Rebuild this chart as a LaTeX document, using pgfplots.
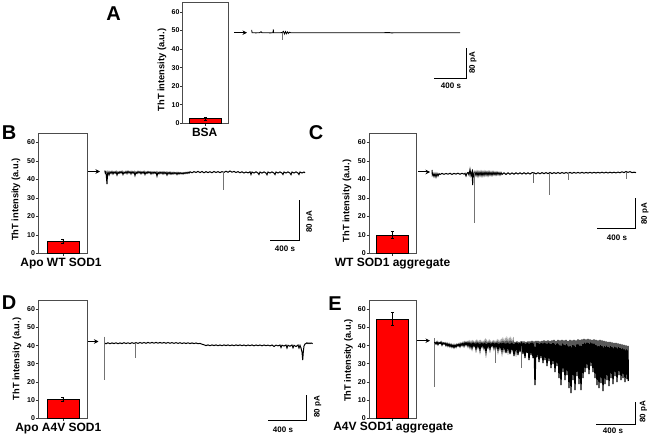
\documentclass[border=0pt]{standalone}
\usepackage{pgfplots}
\pgfplotsset{compat=1.18}
\usepackage{fontspec}
\setmainfont{Liberation Sans}
\usetikzlibrary{arrows.meta}
\pgfplotsset{
 barpanel/.style={
  scale only axis, anchor=south west, clip=false,
  xmin=0, xmax=1, ymin=0, ymax=65,
  ytick={0,10,...,60}, xtick={0.5}, xticklabels={},
  xtick pos=lower, ytick pos=left,
  axis line style={black!70, line width=0.75pt},
  tick style={black!80, line width=0.6pt},
  major tick length=2.5pt,
  ytick align=outside, xtick align=outside,
  yticklabel style={font=\bfseries\fontsize{7}{8}\selectfont, inner sep=0.6pt},
  /pgf/number format/assume math mode=true,
  ybar, bar width=32pt, bar shift=0pt,
 },
 barplot/.style={fill=red, draw=black, line width=0.5pt,
  error bars/.cd, y dir=both, y explicit,
  error bar style={black, line width=0.5pt},
  error mark options={rotate=90, mark size=1.6pt, black, line width=0.5pt}},
}
\begin{document}
\begin{tikzpicture}
\path[use as bounding box] (0,0) rectangle (653pt,438pt);
% ---- bar panels ----
\begin{axis}[barpanel, at={(182.7pt,314.7pt)}, width=45.6pt, height=120.6pt]
\addplot[barplot] coordinates {(0.5,2.5) +- (0,0.8)};
\end{axis}
\begin{axis}[barpanel, at={(38.3pt,184.7pt)}, width=49pt, height=120pt]
\addplot[barplot] coordinates {(0.5,6.6) +- (0,1.2)};
\end{axis}
\begin{axis}[barpanel, at={(369pt,184.7pt)}, width=47pt, height=120pt]
\addplot[barplot] coordinates {(0.5,9.9) +- (0,1.8)};
\end{axis}
\begin{axis}[barpanel, at={(38.3pt,19.7pt)}, width=49pt, height=118.1pt]
\addplot[barplot] coordinates {(0.5,10.6) +- (0,1.0)};
\end{axis}
\begin{axis}[barpanel, at={(369pt,19.7pt)}, width=47pt, height=118.1pt]
\addplot[barplot] coordinates {(0.5,54.7) +- (0,3.4)};
\end{axis}
% ---- traces, arrows, scale bars and labels (pixel frame) ----
\begin{axis}[at={(0pt,0pt)}, anchor=south west, scale only axis, width=653pt, height=438pt,
  xmin=0, xmax=653, ymin=0, ymax=438, y dir=reverse, hide axis, clip=false]
% trace A
\addplot[black, line width=0.8pt] coordinates {
(251.7,29.8)(252,32.7)(256,32.9)(260,32.6)(261,31.6)(262,32.8)(266,32.7)(270,32.9)(273,32.8)(273.3,29.5)(273.6,32.7)
(278,32.8)(282,32.6)(283.5,31.4)(284.5,34)(285.5,31.6)(286.5,33.8)(287.5,31.9)(288.5,33.4)(289.5,32.2)(291,32.8)
(300,32.7)(310,32.8)(320,32.7)(330,32.8)(340,32.7)(350,32.8)(360,32.7)(370,32.8)(380,32.7)(390,32.6)(391,32.9)
(400,32.7)(410,32.8)(420,32.7)(430,32.8)(440,32.7)(450,32.8)(460,32.8)};
\addplot[black!55, line width=0.5pt] coordinates {(282.7,32.7)(282.7,40.5)};
% trace B
\addplot[black, line width=1pt] coordinates {
(104.8,170.5)(105.3,173)(106,172)(106.5,178)(107,184)(107.5,174)(108,172)(109,175)(110,171.8)(111,173.5)
(112,171.5)(113,174)(114,171.8)(115,173.2)(116,171.5)(117,175)(118,172)(119,173.4)(120,171.6)(121,173)(122,171.4)(123,174.5)(124,172)(125,173.3)(126,171.5)(127,173.6)(128,171.2)(129,173)(130,171.6)(131,174)(132,171.5)(133,173.2)(134,171.7)(135,175.5)(136,172)(137,173.4)(138,171.4)(139,173)(140,171.6)(141,173.8)(142,171.8)(143,173.2)(144,171.5)(145,174.5)(146,172)(147,173.4)(148,171.6)(149,173)(150,171.8)(151,174)(152,172)(153,173.6)(154,171.9)(155,173.3)(156,172)(157,176)(158,172.2)(159,173.8)(160,172)(161,173.5)(162,172.1)(163,174)(164,172)(165,173.7)(166,172.2)(167,175)(168,172.3)(169,173.9)(170,172.2)(171,174.2)(172,172.5)(173,174)(174,172.4)(175,173.8)(176,172.6)(177,174.5)(178,172.5)(179,174)(180,172.6)(181,173.8)(182,172.8)(183,174)(184,172.6)(185,173.6)(186,172.4)(187,173.5)(188,172.2)(189,173.2)(190,171.8)(192,172.8)(194,171.6)(196,172.5)(198,171.4)(200,172.6)(202,171.5)(204,172.8)(206,171.6)(208,172.6)(210,171.7)(212,172.7)(214,171.5)(216,172.5)(218,171.6)(220,172.6)(222,171.6)(224,172.4)(226,171.2)(228,172.3)(230,171)(232,172.2)(234,171.4)(236,172.5)(238,171.6)(240,172.8)(242,171.8)(244,173)(246,172)(248,172.9)(250,171.8)(251,174.5)(252,172)(254,173)(256,171.8)(258,173)(259,174.5)(260,172)(262,173.1)(264,171.9)(266,173)(267,174.8)(268,172)(270,173)(272,171.9)(274,173.1)(275,174.6)(276,172)(278,173)(280,171.9)(282,173.1)(283,174.5)(284,172)(286,173)(288,171.9)(290,173.1)(291,174.7)(292,172)(294,173)(296,171.9)(298,173)(299,174.5)(300,172)(302,173)(304,172)(305,172.8)};
\addplot[black!55, line width=0.5pt] coordinates {(223,172.5)(223,190)};
% trace C
\addplot[black, line width=1pt] coordinates {
(432,170)(432.3,175)(433,173.5)(434,176.5)(435,173.5)(436,177)(437,173.5)(438,176)(439,173.6)(440,174.5)(442,173.4)(444,174.3)(446,173.5)(448,174.2)(450,173.3)(452,174.4)(454,173.4)(456,174.1)(458,173.2)(460,174.3)(462,173.3)(464,174.1)(465,173.3)(466,176)(467,173.2)(468,172.5)(469,175)(470,169.5)(471,175.5)(472,172)(472.7,185)(473,172.5)(474,176)(475,172)(476,175.5)(477,171.8)(478,176)(479,172)(480,175.5)(481,171.8)(482,175.8)(483,172)(484,175.5)(485,171.8)(486,175.2)(487,172)(488,175.5)(489,171.8)(490,175)(491,172.2)(492,175.3)(493,172)(494,174.8)(495,172.3)(496,175)(497,172.2)(498,174.6)(499,172.5)(500,175)(501,172.5)(502,174.5)(504,172.8)(506,174.5)(508,172.8)(510,174.3)(512,172.9)(514,174.2)(516,172.8)(518,174)(520,172.8)(522,174)(524,172.7)(526,174)(528,172.8)(530,174)(532,172.7)(534,172.8)(536,173.9)(538,172.7)(540,173.8)(542,172.6)(544,173.7)(546,172.6)(548,173.6)(550,172.5)(552,173.6)(554,172.6)(556,173.5)(558,172.5)(560,173.5)(562,172.5)(564,173.4)(566,172.5)(568,173.3)(570,172.4)(572,173.3)(574,172.4)(576,173.2)(578,172.4)(580,173.2)(582,172.3)(584,173.2)(586,172.4)(588,173.1)(590,172.3)(592,173.1)(594,172.3)(596,173)(598,172.3)(600,173)(602,172.2)(604,173)(606,172.2)(608,173)(610,172.2)(612,172.9)(614,172.2)(616,172.9)(618,172.1)(620,172.8)(622,171.8)(624,172.6)(626,171.5)(628,172.4)(630,171.6)(632,172.6)(634,172.2)(636,172.6)};
\addplot[black!55, line width=0.5pt] coordinates {(474,173)(474,223)};
\addplot[black!55, line width=0.5pt] coordinates {(549.7,173)(549.7,195)};
\addplot[black!60, line width=0.6pt] coordinates {(533,173)(533,183)};
\addplot[black!55, line width=0.5pt] coordinates {(568,173)(568,180)};
\addplot[black!55, line width=0.5pt] coordinates {(626,172)(626,179)};
% trace D
\addplot[black, line width=1pt] coordinates {
(104.5,343)(106,343.8)(108,342.8)(110,343.7)(112,342.9)(114,343.6)(116,342.8)(118,343.7)(120,342.9)(122,343.6)(124,342.7)(126,343.5)(128,342.8)(130,343.6)(132,342.7)(134,343.4)(136,342.6)(138,343.4)(140,342.5)(142,343.3)(144,342.5)(146,343.3)(148,342.4)(150,343.2)(152,342.4)(154,343.2)(156,342.4)(158,343.2)(160,342.5)(162,343.2)(164,342.5)(166,343.3)(168,342.5)(170,343.3)(172,342.6)(174,343.4)(176,342.6)(178,343.4)(180,342.7)(182,343.5)(184,342.8)(186,343.5)(188,342.8)(190,343.6)(192,342.9)(194,343.6)(196,343)(198,343.7)(200,343.4)(202,344.2)(204,344.8)(206,345.6)(208,344.9)(210,345.7)(212,344.9)(214,345.6)(216,344.9)(218,345.7)(220,345)(222,345.7)(224,344.9)(226,345.6)(228,344.9)(230,345.7)(232,345)(234,345.7)(236,344.9)(238,345.6)(240,344.9)(242,345.7)(244,345)(246,345.8)(248,345)(250,345.7)(252,344.9)(254,345.8)(256,345)(258,345.7)(260,345)(262,345.8)(264,345)(266,345.7)(268,345.1)(270,345.9)(272,345)(274,346.5)(276,345.1)(278,345.9)(280,345)(281,347.5)(282,345.2)(284,346)(286,345)(287,348)(288,345.2)(290,346.2)(292,345)(293,347.8)(294,345.3)(296,346.5)(298,345)(299,348)(300,345.4)(301,348)(302,352)(302.7,360)(303.3,352)(304,346)(305,344)(306,343.5)(307,342.8)(308,343.6)(309,343)(310,343.6)(311,343)(312.7,343.6)};
\addplot[black!55, line width=0.5pt] coordinates {(104,336.7)(104,380)};
\addplot[black!55, line width=0.5pt] coordinates {(135,343.2)(135,358.3)};
% trace E
\addplot[black!55, line width=0.5pt] coordinates {(434,338)(434,386.7)};
\addplot[black!55, line width=0.5pt] coordinates {(495.2,343)(495.2,363)};
\addplot[black!55, line width=0.5pt] coordinates {(521.7,342)(521.7,368)};
\addplot[black, line width=1.25pt] coordinates {
(434.4,343)(435,342.5)(436,344)(437,342)(438,344.5)(439,342.5)(440,343.5)(441,342)(442,345)(443,342.8)(444,344)(445,343)(446,345.5)(447,343.5)(448,346)(449,344)(450,346.5)(451,344.5)(452,347)(453,345)(454,347.5)(455,345)(456,347)(457,344.5)(458,346)(459,344)(460,346.5)(461,343.5)(462,345.5)(463,343)(464,346)(465,342.5)(466,345)(467,342.5)(468,346)(469,342.5)(470,347)
(471,343)(472,348)(473,342.5)(474,346)(475,343)(476,349)(477,342.5)(478,347)(479,343)(480,350)(481,342.8)(482,346.5)(483,343)(484,348)(485,342.5)(486,352)(487,343)(488,347)(489,342.5)(490,349)(491,343)(492,346)(493,342.5)(494,348)(495,343)(496,347)(497,342.5)(498,350)(499,343)(500,348)
(501,342.5)(502,351)(503,342)(504,349)(505,342.5)(506,353)(507,342)(508,350)(509,342.5)(510,354)(511,342)(512,349)(513,342.5)(514,356)(515,342)(516,351)(517,341.5)(518,355)(519,342)(520,352)
(521,342)(522,342)(523,354)(524,341.5)(525,358)(526,342)(527,353)(528,341.5)(529,360)(530,341.5)(531,355)(532,341)(533,358)(534,341.5)(535,385)(536,341)(537,357)(538,341)(539,362)(540,341.5)(541,358)(542,341)(543,363)(544,340.5)(545,360)(546,341)(547,366)(548,340.5)(549,361)(550,341)(551,368)(552,340.5)(553,364)(554,340)(555,372)(556,341)(557,366)(558,340)(559,378)(560,340.5)(561,385)(562,340)(563,372)(564,340.5)(565,380)(566,340)(567,375)(568,341)(569,388)(570,340)(571,393)(572,340.5)(573,380)(574,340)(575,390)(576,340.5)(577,376)(578,339.5)(579,384)(580,340)(581,390)(582,339.5)(583,378)(584,339)(585,372)(586,339.5)(587,368)(588,339)(589,374)(590,339.5)(591,366)(592,340)(593,372)(594,339.5)(595,378)(596,340)(597,385)(598,340.5)(599,388)(600,340)(601,383)(602,340.5)(603,391)(604,341)(605,384)(606,341.5)(607,380)(608,342)(609,386)(610,342)(611,378)(612,342.5)(613,384)(614,343)(615,376)(616,343)(617,382)(618,343.5)(619,375)(620,344)(621,380)(622,344.5)(623,378)(624,345)(625,382)(626,345.5)(627,379)(628,346)(628.3,381)};
% arrows
\draw[black, line width=1pt, -{Stealth[length=4.5pt,width=4.5pt]}] (axis cs:234,32.7) -- (axis cs:247,32.7);
\draw[black, line width=1pt, -{Stealth[length=4.5pt,width=4.5pt]}] (axis cs:88,171.5) -- (axis cs:100,171.5);
\draw[black, line width=1pt, -{Stealth[length=4.5pt,width=4.5pt]}] (axis cs:418,172) -- (axis cs:430,172);
\draw[black, line width=1pt, -{Stealth[length=4.5pt,width=4.5pt]}] (axis cs:88,341.5) -- (axis cs:98.5,341.5);
\draw[black, line width=1pt, -{Stealth[length=4.5pt,width=4.5pt]}] (axis cs:417,340.7) -- (axis cs:430,340.7);
% scale bars
\draw[black, line width=1pt] (axis cs:434,78.3) -- (axis cs:466,78.3) -- (axis cs:466,48.3);
\draw[black, line width=1pt] (axis cs:270,241) -- (axis cs:299,241) -- (axis cs:299,200);
\draw[black, line width=1pt] (axis cs:597,229) -- (axis cs:635,229) -- (axis cs:635,198);
\draw[black, line width=1pt] (axis cs:268,420) -- (axis cs:306.7,420) -- (axis cs:306.7,395);
\draw[black, line width=1pt] (axis cs:596,424) -- (axis cs:635,424) -- (axis cs:635,401.7);
\tikzset{sb/.style={font=\bfseries\fontsize{8}{9}\selectfont, inner sep=0pt}}
\node[sb] at (axis cs:451,86) {400 s};
\node[sb, rotate=90] at (axis cs:473,63) {80 pA};
\node[sb] at (axis cs:285,248.5) {400 s};
\node[sb, rotate=90] at (axis cs:310,222) {80 pA};
\node[sb] at (axis cs:617,238) {400 s};
\node[sb, rotate=90] at (axis cs:645,214) {80 pA};
\node[sb] at (axis cs:283,430) {400 s};
\node[sb, rotate=90] at (axis cs:317.7,407) {80 pA};
\node[sb] at (axis cs:613,431) {400 s};
\node[sb, rotate=90] at (axis cs:643.3,411.7) {80 pA};
% panel letters
\tikzset{pl/.style={font=\bfseries\fontsize{20}{22}\selectfont, inner sep=0pt}}
\node[pl] at (axis cs:113.7,13.3) {A};
\node[pl] at (axis cs:9,132.5) {B};
\node[pl] at (axis cs:316,133) {C};
\node[pl] at (axis cs:9,302.5) {D};
\node[pl] at (axis cs:335,304) {E};
% category labels
\tikzset{cl/.style={font=\bfseries\fontsize{12}{13}\selectfont, inner sep=0pt}}
\node[cl] at (axis cs:204.7,132.7) {BSA};
\node[cl] at (axis cs:61,263.3) {Apo WT SOD1};
\node[cl] at (axis cs:392.5,263.3) {WT SOD1 aggregate};
\node[cl] at (axis cs:58.3,428.3) {Apo A4V SOD1};
\node[cl] at (axis cs:393.3,427.7) {A4V SOD1 aggregate};
% y labels
\tikzset{yl/.style={font=\bfseries\fontsize{9.3}{10}\selectfont, inner sep=0pt, rotate=90}}
\node[yl] at (axis cs:162,70) {ThT intensity (a.u.)};
\node[yl] at (axis cs:16,199.5) {ThT intensity (a.u.)};
\node[yl] at (axis cs:347,201) {ThT intensity (a.u.)};
\node[yl] at (axis cs:17,359) {ThT intensity (a.u.)};
\node[yl] at (axis cs:348.5,360.5) {ThT intensity (a.u.)};
\end{axis}
\end{tikzpicture}
\end{document}
